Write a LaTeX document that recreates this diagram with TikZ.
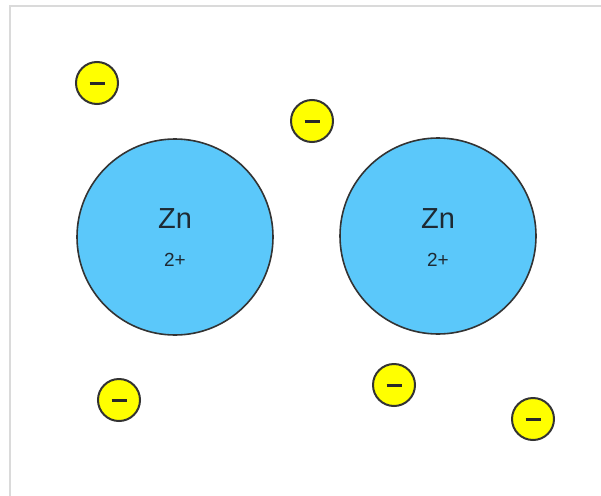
\documentclass[tikz,border=0pt]{standalone}
\usepackage{fontspec}
\setmainfont{Liberation Sans}
\definecolor{ionblue}{HTML}{5BC8FA}
\definecolor{elyellow}{HTML}{FFFF00}
\definecolor{edge}{HTML}{333333}
\definecolor{frame}{HTML}{DADADA}
\definecolor{txt}{HTML}{1E2A33}
\begin{document}
\begin{tikzpicture}[x=1pt,y=-1pt,
  ion/.style={circle,draw=edge,line width=1.6pt,fill=ionblue,minimum size=196pt,inner sep=0pt},
  electron/.style={circle,draw=edge,line width=2pt,fill=elyellow,minimum size=42pt,inner sep=0pt},
  minusbar/.style={draw=edge!80!black,line width=3pt}]
\useasboundingbox (0,0) rectangle (601,495);
\fill[white] (0,0) rectangle (601,495);
\draw[frame,line width=2pt] (10,500) -- (10,6) -- (610,6);
\node[ion] (zn1) at (175,237) {};
\node[ion] (zn2) at (438,236) {};
\foreach \n/\c in {zn1/175,zn2/438}{
  \node[text=txt,font=\fontsize{29}{31}\selectfont] at (\c,219) {Zn};
  \node[text=txt,font=\fontsize{19}{21}\selectfont] at (\c,260) {2+};
}
\foreach \n/\x/\y in {e1/97/83,e2/312/121,e3/119/400,e4/394/385,e5/533/419}{
  \node[electron] (\n) at (\x,\y) {};
  \draw[minusbar] (\x-7.5,\y) -- (\x+7.5,\y);
}
\end{tikzpicture}
\end{document}
